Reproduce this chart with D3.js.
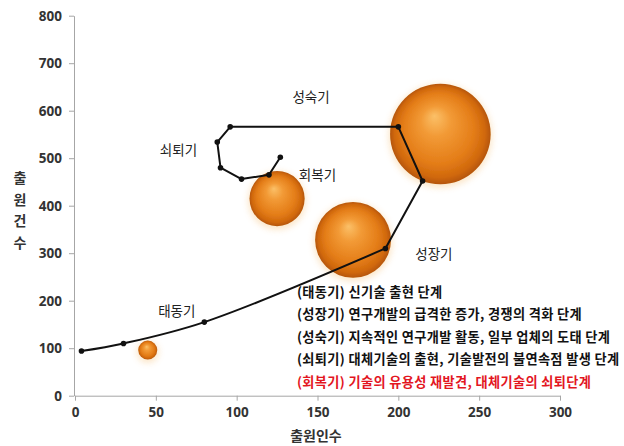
<!DOCTYPE html>
<html>
<head>
<meta charset="utf-8">
<script src="https://cdn.jsdelivr.net/npm/d3@7/dist/d3.min.js"></script>
<style>
  html, body { margin: 0; padding: 0; background: #fff; }
  svg { display: block; font-family: "Noto Sans CJK KR", "Noto Sans", sans-serif; }
</style>
</head>
<body>
<svg id="chart" width="624" height="446"></svg>
<script>
// Technology life-cycle path: applicants (x) vs. applications (y)
const pathApplicants   = [4, 30, 80, 192, 215, 200, 96, 88, 90, 103, 120, 127];
const pathApplications = [94, 110, 155, 310, 452, 566, 566, 534, 480, 456, 465, 502];

// Bubbles
const bubbleApplicants   = [45, 125, 172, 226];
const bubbleApplications = [96, 415, 328, 551];
const bubbleSize         = [9, 76, 144, 253];

// Axis ticks
const xTicks = [0, 50, 100, 150, 200, 250, 300];
const yTicks = [0, 100, 200, 300, 400, 500, 600, 700, 800];

// Stage labels placed at data coordinates
const stageNames = ["태동기", "성장기", "성숙기", "쇠퇴기", "회복기"];
const stageX     = [63, 222, 146, 64, 150];
const stageY     = [178, 297, 628, 517, 465];

// Stage descriptions
const notes = [
  "(태동기) 신기술 출현 단계",
  "(성장기) 연구개발의 급격한 증가, 경쟁의 격화 단계",
  "(성숙기) 지속적인 연구개발 활동, 일부 업체의 도태 단계",
  "(쇠퇴기) 대체기술의 출현, 기술발전의 불연속점 발생 단계",
  "(회복기) 기술의 유용성 재발견, 대체기술의 쇠퇴단계"
];
const noteColors = ["#111", "#111", "#111", "#111", "#e3161f"];

const svg = d3.select("#chart");
const x = d3.scaleLinear().domain([0, 300]).range([75, 560]);
const y = d3.scaleLinear().domain([0, 800]).range([395.7, 15.7]);
const r = d3.scaleSqrt().domain([0, 253]).range([0, 50.3]);

// Sphere shading
const defs = svg.append("defs");
const grad = defs.append("radialGradient")
  .attr("id", "sphere").attr("cx", "50%").attr("cy", "50%").attr("r", "50%")
  .attr("fx", "44%").attr("fy", "32%");
[[0, "#fbc068"], [0.3, "#f29a36"], [0.7, "#e47d18"], [0.9, "#d0680c"], [1, "#b55507"]]
  .forEach(([o, c]) => grad.append("stop").attr("offset", o).attr("stop-color", c));
const glow = defs.append("filter").attr("id", "glow")
  .attr("x", "-30%").attr("y", "-30%").attr("width", "160%").attr("height", "160%");
glow.append("feGaussianBlur").attr("stdDeviation", 3);
const soft = defs.append("filter").attr("id", "soft");
soft.append("feGaussianBlur").attr("stdDeviation", 0.6);

// Axes
const axisColor = "#a6a6a6";
const gx = svg.append("g").attr("transform", `translate(0,${y(0)})`)
  .call(d3.axisBottom(x).tickValues(xTicks).tickSizeOuter(0).tickSizeInner(5).tickPadding(7));
const gy = svg.append("g").attr("transform", `translate(${x(0) - 1},0)`)
  .call(d3.axisLeft(y).tickValues(yTicks).tickSizeOuter(0).tickSizeInner(5).tickPadding(7));
[gx, gy].forEach(g => {
  g.select(".domain").attr("stroke", axisColor);
  g.selectAll(".tick line").attr("stroke", axisColor);
  g.selectAll(".tick text").attr("fill", "#333").attr("font-size", 13.5)
    .attr("font-weight", "bold").attr("font-family", "'Noto Sans', sans-serif");
});

// Axis titles
svg.append("text").attr("x", 316).attr("y", 441).attr("text-anchor", "middle")
  .attr("font-size", 14).attr("font-weight", "bold").attr("fill", "#333").text("출원인수");
const yTitle = "출원건수".split("");
svg.append("g").selectAll("text").data(yTitle).join("text")
  .attr("x", 20).attr("y", (d, i) => 183 + i * 21.5).attr("text-anchor", "middle")
  .attr("font-size", 14).attr("font-weight", "bold").attr("fill", "#333").text(d => d);

// Bubbles
const bubbles = bubbleApplicants.map((v, i) => ({ x: v, y: bubbleApplications[i], s: bubbleSize[i] }));
svg.append("g").selectAll("circle").data(bubbles).join("circle")
  .attr("cx", d => x(d.x)).attr("cy", d => y(d.y) + 2).attr("r", d => r(d.s) + 1.5)
  .attr("fill", "#f7c98a").attr("opacity", 0.45).attr("filter", "url(#glow)");
svg.append("g").selectAll("circle").data(bubbles).join("circle")
  .attr("cx", d => x(d.x)).attr("cy", d => y(d.y)).attr("r", d => r(d.s))
  .attr("fill", "url(#sphere)").attr("filter", "url(#soft)");

// Life-cycle path: smooth early rise, straight afterwards
const pts = pathApplicants.map((v, i) => ({ x: v, y: pathApplications[i] }));
const smooth = d3.line().x(d => x(d.x)).y(d => y(d.y)).curve(d3.curveCatmullRom.alpha(0.5));
const straight = d3.line().x(d => x(d.x)).y(d => y(d.y));
svg.append("path").attr("d", smooth(pts.slice(0, 4)))
  .attr("fill", "none").attr("stroke", "#111").attr("stroke-width", 2);
svg.append("path").attr("d", straight(pts.slice(3)))
  .attr("fill", "none").attr("stroke", "#111").attr("stroke-width", 2).attr("stroke-linejoin", "round");
svg.append("g").selectAll("circle").data(pts).join("circle")
  .attr("cx", d => x(d.x)).attr("cy", d => y(d.y)).attr("r", 2.8).attr("fill", "#111");

// Stage labels
svg.append("g").selectAll("text").data(stageNames).join("text")
  .attr("x", (d, i) => x(stageX[i])).attr("y", (d, i) => y(stageY[i]))
  .attr("dy", "0.35em").attr("text-anchor", "middle")
  .attr("font-size", 13.5).attr("fill", "#222").text(d => d);

// Descriptions
svg.append("g").selectAll("text").data(notes).join("text")
  .attr("x", 297).attr("y", (d, i) => 292 + i * 22.5).attr("dy", "0.35em")
  .attr("font-size", 13.2).attr("font-weight", "bold").attr("letter-spacing", 0.35)
  .attr("fill", (d, i) => noteColors[i]).text(d => d);
</script>
</body>
</html>
